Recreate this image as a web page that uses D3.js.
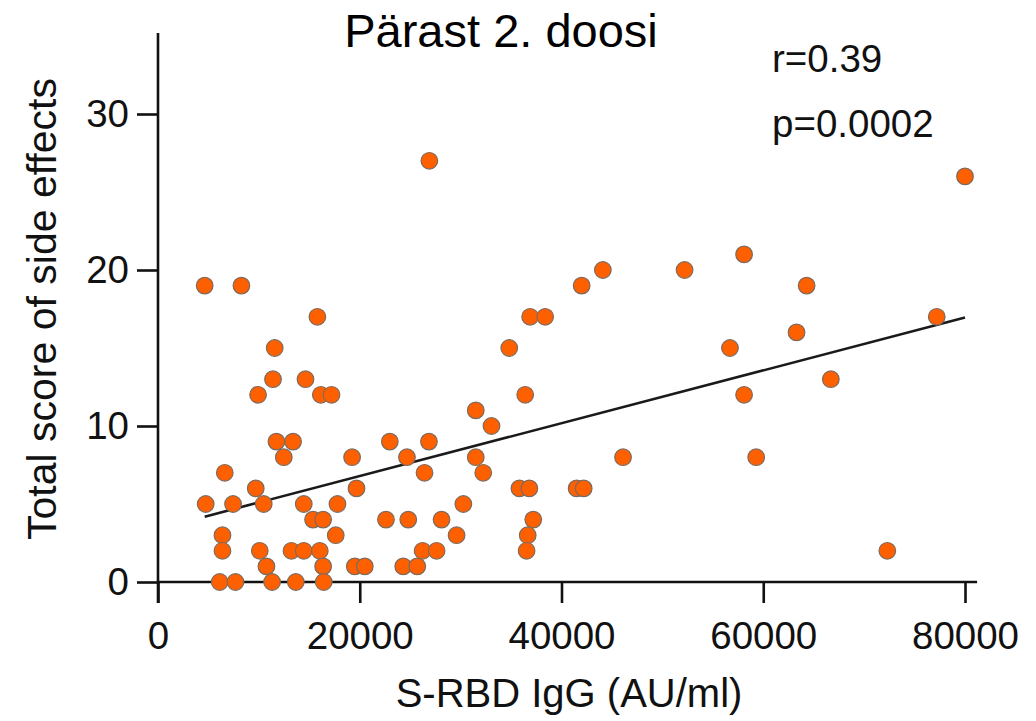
<!DOCTYPE html>
<html>
<head>
<meta charset="utf-8">
<script src="https://cdn.jsdelivr.net/npm/d3@7"></script>
<style>
  body { margin: 0; background: #fff; }
  svg { display: block; font-family: "Liberation Sans", Arial, Helvetica, sans-serif; }
</style>
</head>
<body>
<div id="chart"></div>
<script>
// S-RBD IgG (AU/ml) per person, and total side effect score (same order)
var igg = [
  4630, 8270, 15800, 11570, 11400, 14620, 9920, 16140, 17200, 11740,
  13390, 12470, 19240, 6620, 9690, 19680, 4730, 7440, 10480, 14450,
  17790, 15370, 16370, 6390, 17620, 6390, 10090, 13230, 14450, 16040,
  10750, 16370, 19510, 20500, 6120, 7680, 11310, 13660, 16430,
  36890, 38380, 34820, 36400, 31500, 33060, 22980, 26860, 24680, 31500,
  26420, 32240, 35830, 36810, 30270, 22600, 24810, 28110, 37200, 29600,
  36650, 26230, 27620, 36540, 24310, 25700, 26900,
  58100, 44100, 52200, 42000, 64300, 77200, 56700, 63300, 58100, 66700,
  46100, 59300, 41500, 42200, 72300, 80000
];
var score = [
  19, 19, 17, 15, 13, 13, 12, 12, 12, 9,
  9, 8, 8, 7, 6, 6, 5, 5, 5, 5,
  5, 4, 4, 3, 3, 2, 2, 2, 2, 2,
  1, 1, 1, 1, 0, 0, 0, 0, 0,
  17, 17, 15, 12, 11, 10, 9, 9, 8, 8,
  7, 7, 6, 6, 5, 4, 4, 4, 4, 3,
  3, 2, 2, 2, 1, 1, 27,
  21, 20, 20, 19, 19, 17, 15, 16, 12, 13,
  8, 8, 6, 6, 2, 26
];

// linear fit, as drawn (start / end in data units)
var fitX = [4630, 80000];
var fitY = [4.19, 16.95];

var xTicks = [0, 20000, 40000, 60000, 80000];
var yTicks = [0, 10, 20, 30];
var stats = ["r=0.39", "p=0.0002"];

var W = 1036, H = 721;

var x = d3.scaleLinear().domain([0, 80000]).range([158, 965]);
var y = d3.scaleLinear().domain([0, 30]).range([582, 114]);

var svg = d3.select("#chart").append("svg")
  .attr("width", W)
  .attr("height", H);

svg.append("rect").attr("width", W).attr("height", H).attr("fill", "#fff");

/* axes */
var xaxis = svg.append("g")
  .attr("transform", "translate(0," + y(0) + ")")
  .call(d3.axisBottom(x).tickValues(xTicks).tickFormat(d3.format("d"))
    .tickSize(21).tickSizeOuter(0).tickPadding(19));

var yaxis = svg.append("g")
  .attr("transform", "translate(" + x(0) + ",0)")
  .call(d3.axisLeft(y).tickValues(yTicks)
    .tickSize(21).tickSizeOuter(0).tickPadding(8));

[xaxis, yaxis].forEach(function (g) {
  g.select(".domain").remove();
  g.selectAll(".tick line").attr("stroke", "#111").attr("stroke-width", 2.6);
  g.selectAll(".tick text")
    .attr("fill", "#111")
    .style("font-size", "38.5px")
    .style("font-family", "'Liberation Sans', Arial, Helvetica, sans-serif");
});

// axis lines: x runs a bit past 80000, y runs up to ~35 and down to tick depth
svg.append("line")
  .attr("x1", x(0)).attr("x2", x(81200))
  .attr("y1", y(0)).attr("y2", y(0))
  .attr("stroke", "#111").attr("stroke-width", 2.6);

svg.append("line")
  .attr("x1", x(0)).attr("x2", x(0))
  .attr("y1", y(35.2)).attr("y2", y(0) + 21)
  .attr("stroke", "#111").attr("stroke-width", 2.6);

/* fit line */
svg.append("line")
  .attr("x1", x(fitX[0])).attr("y1", y(fitY[0]))
  .attr("x2", x(fitX[1])).attr("y2", y(fitY[1]))
  .attr("stroke", "#1a1a1a").attr("stroke-width", 2.6);

/* points */
svg.selectAll(".dot")
  .data(d3.range(igg.length))
  .enter().append("circle")
  .attr("class", "dot")
  .attr("cx", function (i) { return x(igg[i]); })
  .attr("cy", function (i) { return y(score[i]); })
  .attr("r", 8.3)
  .attr("fill", "#fe6000")
  .attr("stroke", "#7d6a5e")
  .attr("stroke-width", 1.2);

/* labels */
svg.append("text")
  .attr("x", 501).attr("y", 47)
  .attr("text-anchor", "middle")
  .style("font-size", "47px")
  .attr("fill", "#000")
  .text("Pärast 2. doosi");

svg.append("text")
  .attr("x", 569).attr("y", 707)
  .attr("text-anchor", "middle")
  .style("font-size", "40px")
  .attr("fill", "#111")
  .text("S-RBD IgG (AU/ml)");

svg.append("text")
  .attr("transform", "translate(56,309) rotate(-90)")
  .attr("text-anchor", "middle")
  .style("font-size", "41px")
  .attr("fill", "#111")
  .text("Total score of side effects");

svg.selectAll(".stat")
  .data(stats)
  .enter().append("text")
  .attr("class", "stat")
  .attr("x", 772)
  .attr("y", function (d, i) { return 72 + i * 65; })
  .style("font-size", "38.5px")
  .attr("fill", "#111")
  .text(function (d) { return d; });
</script>
</body>
</html>
